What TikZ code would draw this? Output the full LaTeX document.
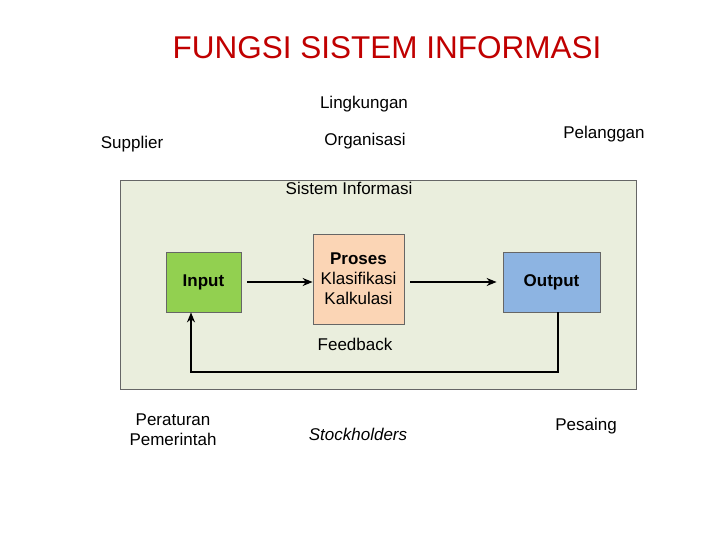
\documentclass[tikz,border=0pt]{standalone}
\usepackage{fontspec}
\setmainfont{Liberation Sans}
\usetikzlibrary{arrows.meta}
\definecolor{titlered}{HTML}{C00000}
\definecolor{bgbox}{HTML}{EAEEDD}
\definecolor{ingreen}{HTML}{92D050}
\definecolor{propeach}{HTML}{FBD5B5}
\definecolor{outblue}{HTML}{8DB4E2}
\tikzset{
  lbl/.style={font=\fontsize{17}{20}\selectfont, align=center},
  blk/.style={draw=gray!80!black, line width=0.8pt, minimum width=#1, font=\fontsize{17}{20}\selectfont, align=center, inner sep=0pt},
  arr/.style={-{Stealth[length=10pt,width=8pt]}, line width=1.3pt},
}
\begin{document}
\begin{tikzpicture}[x=1pt,y=-1pt]
\useasboundingbox (0,0) rectangle (720,540);
\node[font=\fontsize{31.5}{36}\selectfont, text=titlered] (title) at (387,48) {FUNGSI SISTEM INFORMASI};
\node[lbl] (ling) at (364,104) {Lingkungan};
\node[lbl] (sup) at (132,144) {Supplier};
\node[lbl] (org) at (365,141) {Organisasi};
\node[lbl] (pel) at (604,134) {Pelanggan};
\node[draw=gray!80!black, fill=bgbox, line width=0.8pt, minimum width=516, minimum height=209, inner sep=0pt] (sys) at (378,284.5) {};
\node[lbl] (si) at (349,188) {Sistem Informasi};
\node[blk=75, minimum height=60, fill=ingreen, font=\bfseries\fontsize{17}{20}\selectfont] (in) at (203.5,282) {Input};
\node[blk=91, minimum height=90, fill=propeach] (pro) at (358.5,279) {\textbf{Proses}\\Klasifikasi\\Kalkulasi};
\node[blk=97, minimum height=60, fill=outblue, font=\bfseries\fontsize{17}{20}\selectfont] (out) at (551.5,282) {Output};
\coordinate (a1) at (247,282);
\coordinate (a2) at (410,282);
\draw[arr] (a1) -- (pro.west |- a1);
\draw[arr] (a2) -- ([xshift=-6pt]out.west);
\coordinate (f1) at (558,372);
\coordinate (f2) at (191,372);
\draw[arr] ([xshift=6.5pt]out.south) -- (f1) -- (f2) -- ([xshift=-12.5pt]in.south);
\node[lbl] (fb) at (355,344) {Feedback};
\node[lbl] (per) at (173,430) {Peraturan\\Pemerintah};
\node[lbl, font=\itshape\fontsize{17}{20}\selectfont] (stk) at (358,434) {Stockholders};
\node[lbl] (pes) at (586,426) {Pesaing};
\end{tikzpicture}
\end{document}
